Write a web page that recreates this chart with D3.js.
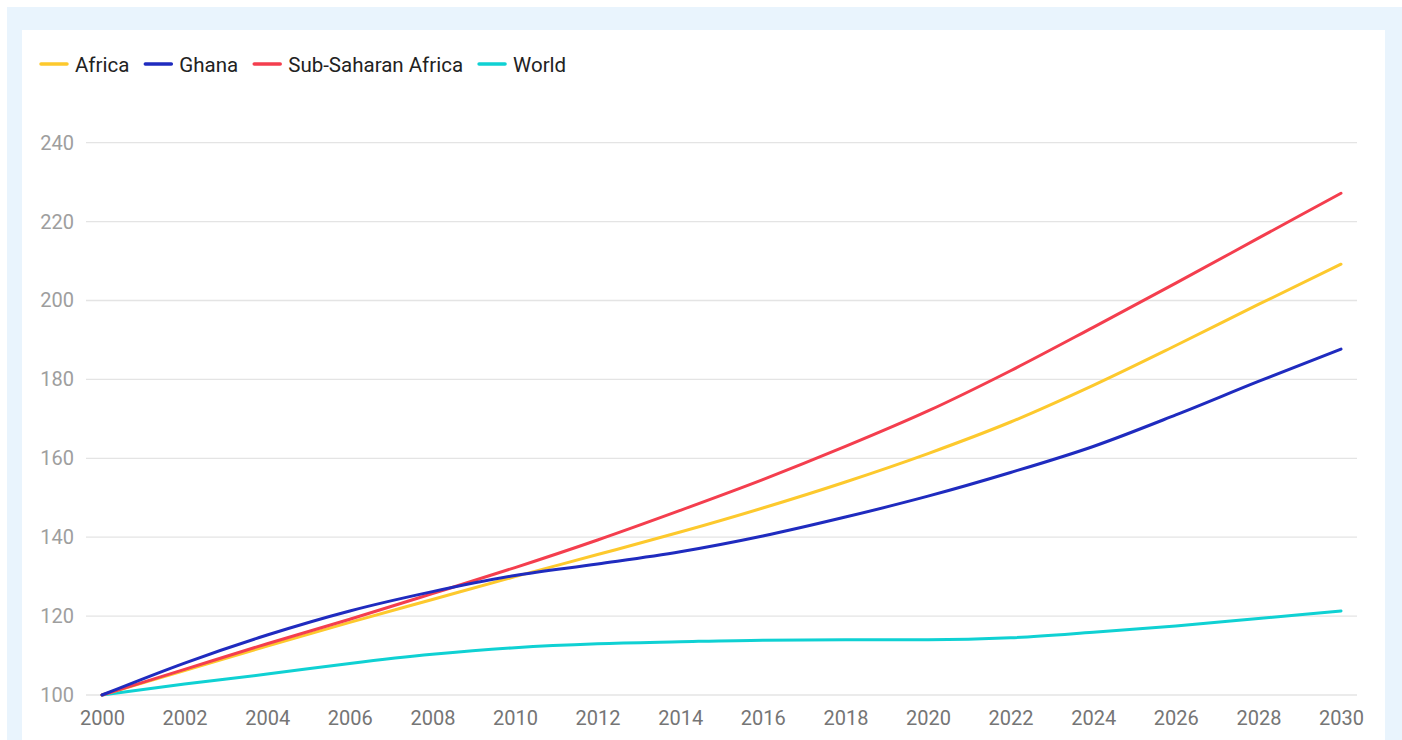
<!DOCTYPE html>
<html>
<head>
<meta charset="utf-8">
<script src="https://cdn.jsdelivr.net/npm/d3@7"></script>
<style>
  html, body { margin: 0; padding: 0; background: #ffffff; }
  svg { display: block; font-family: Roboto, "Noto Sans", sans-serif; }
</style>
</head>
<body>
<svg id="chart" width="1402" height="740"></svg>
<script>
const years = [2000, 2002, 2004, 2006, 2008, 2010, 2012, 2014, 2016, 2018, 2020, 2022, 2024, 2026, 2028, 2030];
const africa = [100, 106.2, 112.4, 118.4, 124.2, 130.0, 135.6, 141.3, 147.4, 154.0, 161.2, 169.2, 178.5, 188.6, 199.0, 209.2];
const ghana = [100, 108.1, 115.2, 121.3, 126.2, 130.3, 133.2, 136.3, 140.3, 145.1, 150.4, 156.4, 163.0, 171.0, 179.5, 187.7];
const subSaharan = [100, 106.5, 113.0, 119.2, 125.7, 132.3, 139.3, 146.8, 154.6, 163.0, 172.0, 182.2, 193.2, 204.4, 215.8, 227.2];
const world = [100, 102.8, 105.3, 108.0, 110.3, 112.0, 113.0, 113.5, 113.9, 114.0, 114.0, 114.5, 115.9, 117.5, 119.4, 121.3];
const seriesNames = ["Africa", "Ghana", "Sub-Saharan Africa", "World"];
const seriesColors = ["#fdc92d", "#1f2bbf", "#f43e4e", "#0fd1d3"];
const yTicks = [100, 120, 140, 160, 180, 200, 220, 240];
const xTicks = [2000, 2002, 2004, 2006, 2008, 2010, 2012, 2014, 2016, 2018, 2020, 2022, 2024, 2026, 2028, 2030];

const seriesValues = [africa, ghana, subSaharan, world];

const svg = d3.select("#chart");

// backgrounds
svg.append("rect").attr("x", 7).attr("y", 7).attr("width", 1395).attr("height", 733).attr("fill", "#e9f4fd");
svg.append("rect").attr("x", 22).attr("y", 30).attr("width", 1363).attr("height", 720).attr("fill", "#ffffff");

const x = d3.scaleLinear().domain([2000, 2030]).range([102, 1341]);
const y = d3.scaleLinear().domain([100, 240]).range([695, 142.7]);

// gridlines
svg.append("g").selectAll("line").data(yTicks).join("line")
  .attr("x1", 86).attr("x2", 1357)
  .attr("y1", d => y(d)).attr("y2", d => y(d))
  .attr("stroke", "#e4e4e4").attr("stroke-width", 1.3);

// y labels
const yAxis = d3.axisLeft(y).tickValues(yTicks).tickSize(0).tickPadding(0);
const gy = svg.append("g").attr("transform", "translate(74,0)").call(yAxis);
gy.select(".domain").remove();
gy.selectAll("text").attr("font-size", 20).attr("fill", "#9e9e9e").attr("font-family", "Roboto");

// x labels
const xAxis = d3.axisBottom(x).tickValues(xTicks).tickSize(0).tickPadding(0).tickFormat(d3.format("d"));
const gx = svg.append("g").attr("transform", "translate(0,711)").call(xAxis);
gx.select(".domain").remove();
gx.selectAll("text").attr("font-size", 20).attr("fill", "#757575").attr("font-family", "Roboto");

// lines
const line = d3.line().x((d, i) => x(years[i])).y(d => y(d)).curve(d3.curveMonotoneX);
const drawOrder = [3, 0, 2, 1];
svg.append("g").selectAll("path").data(drawOrder).join("path")
  .attr("d", k => line(seriesValues[k]))
  .attr("fill", "none")
  .attr("stroke", k => seriesColors[k])
  .attr("stroke-width", 3)
  .attr("stroke-linecap", "round")
  .attr("stroke-linejoin", "round");

// legend
const legend = svg.append("g");
let lx = 41;
seriesNames.forEach((name, i) => {
  legend.append("line").attr("x1", lx).attr("x2", lx + 26).attr("y1", 64).attr("y2", 64)
    .attr("stroke", seriesColors[i]).attr("stroke-width", 3.5).attr("stroke-linecap", "round");
  const t = legend.append("text").attr("x", lx + 34).attr("y", 71.5)
    .attr("font-size", 20.5).attr("fill", "#222222").attr("font-family", "Roboto").text(name);
  const w = t.node().getComputedTextLength();
  lx = lx + 34 + w + 16;
});
</script>
</body>
</html>
